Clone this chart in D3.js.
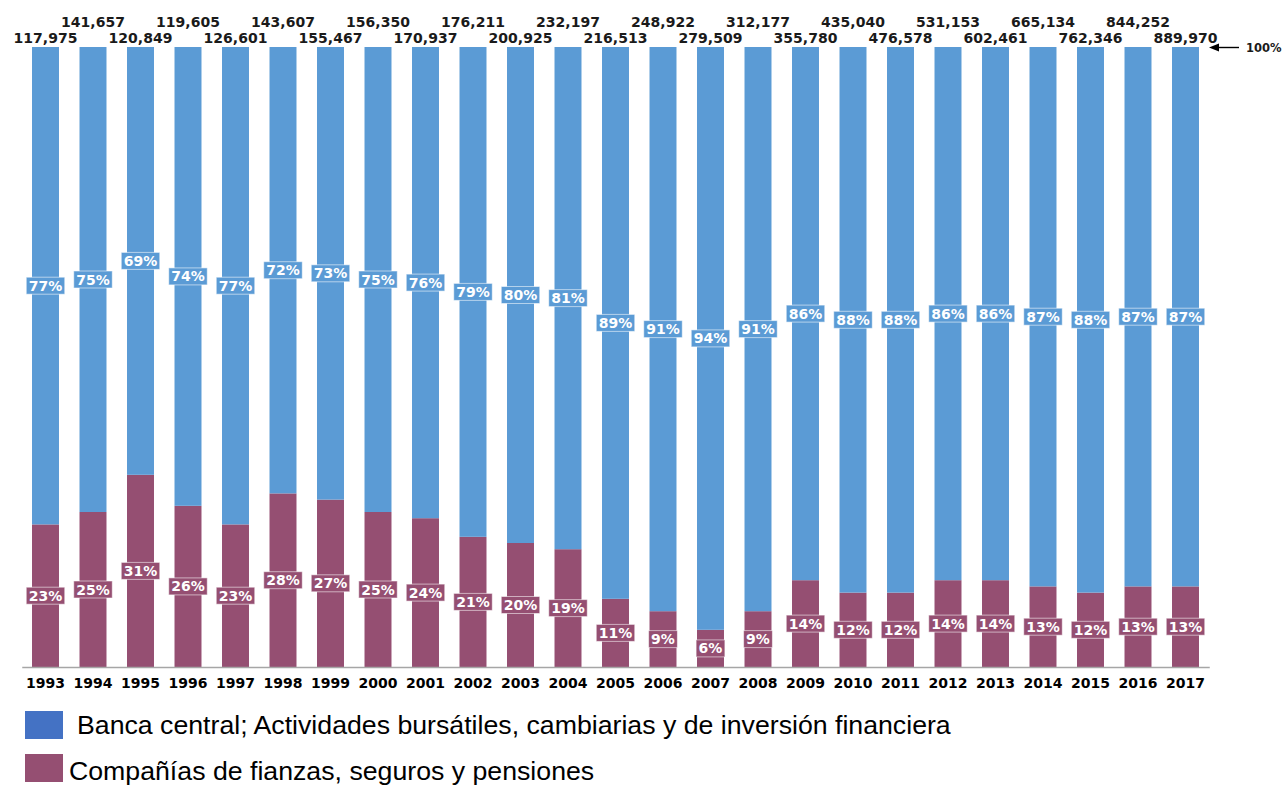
<!DOCTYPE html>
<html>
<head>
<meta charset="utf-8">
<script src="https://cdn.jsdelivr.net/npm/d3@7"></script>
<style>
  html, body { margin: 0; padding: 0; background: #fff; }
  svg { display: block; }
</style>
</head>
<body>
<svg id="chart" width="1283" height="785"></svg>
<script>
// Years on the x axis
const years = ["1993","1994","1995","1996","1997","1998","1999","2000","2001","2002","2003","2004",
  "2005","2006","2007","2008","2009","2010","2011","2012","2013","2014","2015","2016","2017"];

// Share (%) of the central bank / securities, exchange and investment activities
const bancaPct = [77,75,69,74,77,72,73,75,76,79,80,81,89,91,94,91,86,88,88,86,86,87,88,87,87];

// Share (%) of finance, insurance and pension companies
const companiasPct = [23,25,31,26,23,28,27,25,24,21,20,19,11,9,6,9,14,12,12,14,14,13,12,13,13];

// Totals shown above each column
const totals = [117975,141657,120849,119605,126601,143607,155467,156350,170937,176211,200925,232197,
  216513,248922,279509,312177,355780,435040,476578,531153,602461,665134,762346,844252,889970];

const seriesNames = [
  "Banca central; Actividades bursátiles, cambiarias y de inversión financiera",
  "Compañías de fianzas, seguros y pensiones"
];

const colBlue = "#5B9BD5";
const colPink = "#954F72";
const legendBlue = "#4472C4";
const boldFont = "'DejaVu Sans', Verdana, sans-serif";

const svg = d3.select("#chart");

const x = d3.scaleBand()
  .domain(years)
  .range([21.75, 1209.25])
  .paddingInner(0.432)
  .paddingOuter(0.216);

const y = d3.scaleLinear().domain([0, 100]).range([667, 47]);

const rows = years.map((yr, i) => ({ year: yr, i, banca: bancaPct[i], comp: companiasPct[i], total: totals[i] }));

// Stacked columns: pink at the bottom, blue above
const stack = d3.stack().keys(["comp", "banca"])(rows);
const colors = { comp: colPink, banca: colBlue };

const layers = svg.append("g").selectAll("g")
  .data(stack)
  .join("g")
  .attr("fill", d => colors[d.key]);

layers.selectAll("rect")
  .data(d => d)
  .join("rect")
  .attr("x", d => x(d.data.year))
  .attr("width", x.bandwidth())
  .attr("y", d => y(d[1]))
  .attr("height", d => y(d[0]) - y(d[1]));

// Axis line and year labels
const xAxis = d3.axisBottom(x).tickSize(0).tickPadding(15);
const axisG = svg.append("g").attr("transform", `translate(0,${y(0)})`).call(xAxis);
axisG.select(".domain").attr("stroke", "#a6a6a6").attr("stroke-width", 1.5);
axisG.selectAll(".tick text")
  .attr("font-family", boldFont)
  .attr("font-weight", "bold")
  .attr("font-size", 14)
  .attr("fill", "#000")
  .attr("dy", "0.45em");

// Percentage labels in boxes, centred in each segment
const labelG = svg.append("g");
stack.forEach(layer => {
  layer.forEach(seg => {
    const cx = x(seg.data.year) + x.bandwidth() / 2;
    const cy = (y(seg[0]) + y(seg[1])) / 2;
    const g = labelG.append("g").attr("transform", `translate(${cx},${cy})`);
    const rect = g.append("rect").attr("fill", colors[layer.key])
      .attr("stroke", "rgba(255,255,255,0.55)").attr("stroke-width", 1);
    const t = g.append("text")
      .attr("text-anchor", "middle")
      .attr("dy", "0.36em")
      .attr("font-family", boldFont)
      .attr("font-weight", "bold")
      .attr("font-size", 14)
      .attr("fill", "#fff")
      .text(seg.data[layer.key] + "%");
    const w = t.node().getComputedTextLength() + 5;
    rect.attr("x", -w / 2).attr("y", -8.5).attr("width", w).attr("height", 17);
  });
});

// Totals above the columns, alternating between two rows
svg.append("g").selectAll("text")
  .data(rows)
  .join("text")
  .attr("x", d => x(d.year) + x.bandwidth() / 2)
  .attr("y", d => d.i % 2 === 1 ? 26.5 : 42.5)
  .attr("text-anchor", "middle")
  .attr("font-family", boldFont)
  .attr("font-weight", "bold")
  .attr("font-size", 14)
  .attr("fill", "#1a1a1a")
  .text(d => d3.format(",")(d.total));

// 100% marker with arrow
const y100 = y(100) + 0.5;
svg.append("line")
  .attr("x1", 1216).attr("x2", 1239)
  .attr("y1", y100).attr("y2", y100)
  .attr("stroke", "#000").attr("stroke-width", 1.4);
svg.append("path")
  .attr("d", `M1209,${y100} L1219,${y100 - 4} L1219,${y100 + 4} Z`)
  .attr("fill", "#000");
svg.append("text")
  .attr("x", 1246).attr("y", y100 + 4.5)
  .attr("font-family", boldFont)
  .attr("font-weight", "bold")
  .attr("font-size", 11.5)
  .attr("fill", "#1a1a1a")
  .text("100%");

// Legend
const legend = [
  { name: seriesNames[0], color: legendBlue, sy: 711, tx: 77, ty: 734 },
  { name: seriesNames[1], color: colPink, sy: 754, tx: 69, ty: 779.5 }
];
const lg = svg.append("g");
legend.forEach(l => {
  lg.append("rect").attr("x", 25).attr("y", l.sy).attr("width", 38).attr("height", 28).attr("fill", l.color);
  lg.append("text")
    .attr("x", l.tx).attr("y", l.ty)
    .attr("font-family", "'Liberation Sans', Arial, sans-serif")
    .attr("font-size", 26.7)
    .attr("fill", "#000")
    .text(l.name);
});
</script>
</body>
</html>
